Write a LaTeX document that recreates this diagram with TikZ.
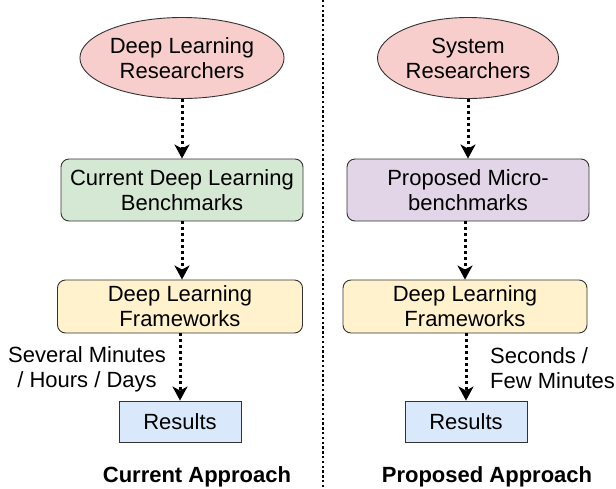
\documentclass[tikz,border=0pt]{standalone}
\usepackage{fontspec}
\setmainfont{Liberation Sans}
\usetikzlibrary{arrows.meta,shapes.geometric}
\definecolor{pinkf}{HTML}{F8CECC}
\definecolor{greenf}{HTML}{D5E8D4}
\definecolor{purplef}{HTML}{E1D5E7}
\definecolor{yellowf}{HTML}{FFF2CC}
\definecolor{bluef}{HTML}{DAE8FC}
\begin{document}
\begin{tikzpicture}[x=1pt,y=-1pt,
  every node/.style={font=\fontsize{22}{25}\selectfont, align=center, inner sep=0pt},
  ell/.style={ellipse, draw=black!80, line width=0.9pt, fill=pinkf, minimum width=181pt, minimum height=81pt},
  rbox/.style={rectangle, rounded corners=8pt, draw=black!80, line width=0.9pt, minimum height=#1},
  resbox/.style={rectangle, draw=black!80, line width=0.9pt, fill=bluef, minimum width=122pt, minimum height=41pt},
  conn/.style={line width=3pt, dash pattern=on 3pt off 3pt, -{Stealth[length=14pt,width=15pt,inset=4pt]}},
  title/.style={font=\fontsize{22}{25}\selectfont\bfseries}
]
\useasboundingbox (0,0) rectangle (616,488);
% left column
\node[ell] (lres) at (182,58) {Deep Learning\\Researchers};
\node[rbox=62pt, fill=greenf, minimum width=242pt] (lbench) at (182,190) {Current Deep Learning\\Benchmarks};
\node[rbox=53pt, fill=yellowf, minimum width=245pt] (lfw) at (180,306.5) {Deep Learning\\Frameworks};
\node[resbox] (lout) at (180,421.5) {Results};
\node[title] (ltitle) at (197,477) {Current Approach};
% right column
\node[ell] (rres) at (468,58) {System\\Researchers};
\node[rbox=62pt, fill=purplef, minimum width=242pt] (rbench) at (468,190) {Proposed Micro-\\benchmarks};
\node[rbox=53pt, fill=yellowf, minimum width=244pt] (rfw) at (465,306.5) {Deep Learning\\Frameworks};
\node[resbox] (rout) at (466,421.5) {Results};
\node[title] (rtitle) at (487,477) {Proposed Approach};
% connectors
\draw[conn] (lres.south) -- (lres.south |- lbench.north);
\draw[conn] (lres.south |- lbench.south) -- (lfw.north -| lres.south);
\draw[conn] (lfw.south) -- (lout.north);
\draw[conn] (rres.south) -- (rres.south |- rbench.north);
\draw[conn] (rbench.south -| rfw.south) -- (rfw.north);
\draw[conn] (rfw.south -| rout.north) -- (rout.north);
% labels
\node[align=center] (llab) at (87,369.5) {Several Minutes\\/ Hours / Days};
\node[align=left, anchor=west] (rlab) at (490,368.5) {Seconds /\\Few Minutes};
% divider
\coordinate (dtop) at (323,0);
\coordinate (dbot) at (323,488);
\draw[line width=2.4pt, dash pattern=on 2.4pt off 2.4pt] (dtop) -- (dbot);
\end{tikzpicture}
\end{document}
